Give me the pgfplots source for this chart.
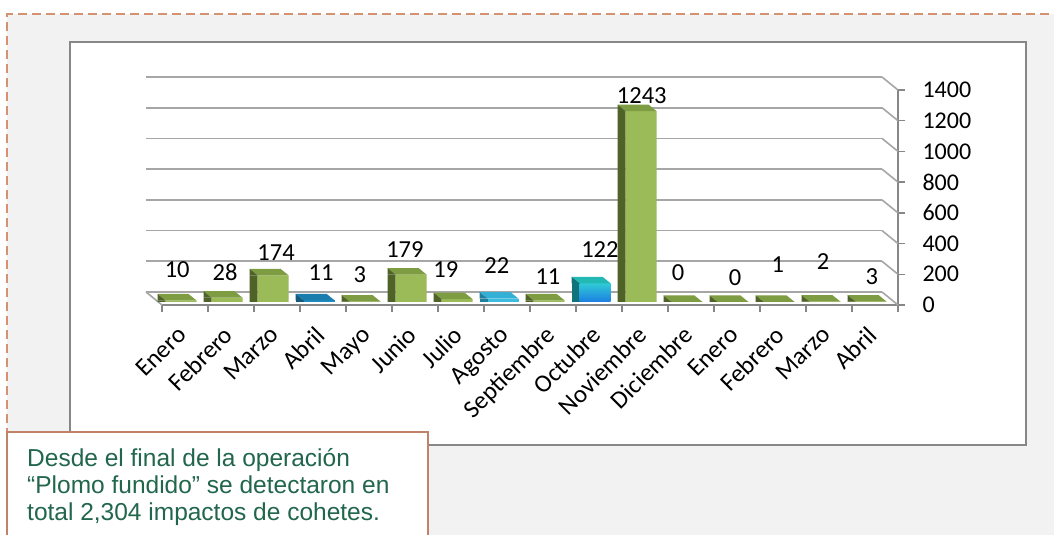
\documentclass[border=0pt]{standalone}
\usepackage{fontspec}
\setmainfont{Carlito}
\newfontfamily\arialfont{Liberation Sans}
\usepackage{pgfplots}
\usepackage{pgfplotstable}
\pgfplotsset{compat=1.18}
\definecolor{bggray}{HTML}{F2F2F2}
\definecolor{dashor}{HTML}{D49270}
\definecolor{boxgray}{HTML}{878787}
\definecolor{gridgray}{HTML}{A6A6A6}
\definecolor{gfront}{HTML}{9BBB59}
\definecolor{gtop}{HTML}{7E9C42}
\definecolor{gside}{HTML}{4F6228}
\definecolor{bAfront}{HTML}{1F8BC0}
\definecolor{bAtop}{HTML}{1A7DAE}
\definecolor{bAside}{HTML}{135A7C}
\definecolor{bGfront}{HTML}{3CBCE0}
\definecolor{bGtop}{HTML}{34AFD5}
\definecolor{bGside}{HTML}{1F7E99}
\definecolor{oTop}{HTML}{30CAD6}
\definecolor{oBot}{HTML}{1C7EE2}
\definecolor{oTopFace}{HTML}{22B9B5}
\definecolor{oSide}{HTML}{10737A}
\definecolor{tbord}{HTML}{C2826A}
\definecolor{ttext}{HTML}{21664D}

% top face (parallelogram) and the top of the left face of a 3D bar
\newcommand\declaretop[3]{%
  \pgfdeclareplotmark{#1}{%
    \pgfsetfillcolor{#2}%
    \pgfpathmoveto{\pgfqpoint{-19.5pt}{3pt}}%
    \pgfpathlineto{\pgfqpoint{11.5pt}{3pt}}%
    \pgfpathlineto{\pgfqpoint{3.5pt}{9.5pt}}%
    \pgfpathlineto{\pgfqpoint{-27.5pt}{9.5pt}}%
    \pgfpathclose
    \pgfusepathqfill
    \pgfsetfillcolor{#3}%
    \pgfpathmoveto{\pgfqpoint{-27.5pt}{3pt}}%
    \pgfpathlineto{\pgfqpoint{-19.5pt}{3pt}}%
    \pgfpathlineto{\pgfqpoint{-27.5pt}{9.5pt}}%
    \pgfpathclose
    \pgfusepathqfill}}
\declaretop{topG}{gtop}{gside}
\declaretop{topA}{bAtop}{bAside}
\declaretop{topB}{bGtop}{bGside}
\declaretop{topO}{oTopFace}{oSide}

% x = category, v = value, lx/ly = where the value label sits
\pgfplotstableread{
x v lx ly
0 10 -0.17 228
1 28 0.87 215
2 174 1.98 339
3 11 2.96 208
4 3 3.80 195
5 179 4.78 358
6 19 5.67 228
7 22 6.78 260
8 11 7.89 182
9 122 9.02 358
10 1243 9.93 1361
11 0 10.72 208
12 0 11.96 176
13 1 12.89 260
14 2 13.87 280
15 3 14.93 182
}\dataall

\pgfplotstableread{
x v
0 10
1 28
2 174
4 3
5 179
6 19
8 11
10 1243
11 0
12 0
13 1
14 2
15 3
}\datagreen

\begin{document}
\begin{tikzpicture}[x=1pt,y=1pt]
\useasboundingbox (0,0) rectangle (1054,535);
\fill[white] (0,0) rectangle (1054,535);
\fill[bggray] (7,0) rectangle (1054,521);
\draw[dashor, line width=2pt, dash pattern=on 9pt off 5pt] (7,0) -- (7,521) -- (1054,521);
\draw[boxgray, line width=2.5pt, fill=white] (70,90) rectangle (1026,493);

\begin{axis}[
  at={(162pt,230pt)}, anchor=south west,
  scale only axis, width=736pt, height=215pt,
  xmin=-0.5, xmax=15.5, ymin=0, ymax=1400,
  clip=false,
  axis x line*=bottom, axis y line*=right,
  axis line style={boxgray, line width=1.5pt},
  tick align=outside,
  major tick length=7pt,
  tick style={boxgray, line width=1.5pt},
  xtick={-0.5,0.5,...,15.5},
  xticklabels={},
  extra x ticks={0,...,15},
  extra x tick labels={Enero,Febrero,Marzo,Abril,Mayo,Junio,Julio,Agosto,Septiembre,Octubre,Noviembre,Diciembre,Enero,Febrero,Marzo,Abril},
  extra x tick style={major tick length=0pt,
     tick label style={anchor=north east, inner sep=1pt, font=\fontsize{25}{29}\selectfont, xshift=-9pt, yshift=-18pt, rotate=45}},
  ytick={0,200,...,1400},
  yticklabel style={font=\fontsize{24}{28}\selectfont, anchor=west, xshift=14pt},
  /pgf/number format/1000 sep={},
  /pgf/number format/assume math mode=true,
  ymajorgrids,
  major grid style={gridgray, line width=1.6pt, xshift=-16pt, yshift=13pt},
]
\pgfplotsinvokeforeach{0,200,...,1400}{
  \draw[gridgray, line width=1.6pt] ([shift={(-16pt,13pt)}]axis cs:15.5,#1) -- (axis cs:15.5,#1);
}
\draw[gridgray, line width=1.6pt] ([shift={(-16pt,13pt)}]axis cs:-0.5,0) -- (axis cs:-0.5,0);
% green bars: left face, front face, top face
\addplot[ybar, bar width=8pt, bar shift=-23.5pt, fill=gside, draw=none, yshift=3pt] table[x=x,y=v] {\datagreen};
\addplot[ybar, bar width=31pt, bar shift=-4pt, fill=gfront, draw=none, yshift=3pt] table[x=x,y=v] {\datagreen};
\addplot[only marks, mark=topG] table[x=x,y=v] {\datagreen};
% Abril
\addplot[ybar, bar width=8pt, bar shift=-23.5pt, fill=bAside, draw=none, yshift=3pt] coordinates {(3,11)};
\addplot[ybar, bar width=31pt, bar shift=-4pt, fill=bAfront, draw=none, yshift=3pt] coordinates {(3,11)};
\addplot[only marks, mark=topA] coordinates {(3,11)};
% Agosto
\addplot[ybar, bar width=8pt, bar shift=-23.5pt, fill=bGside, draw=none, yshift=3pt] coordinates {(7,22)};
\addplot[ybar, bar width=31pt, bar shift=-4pt, fill=bGfront, draw=none, yshift=3pt] coordinates {(7,22)};
\addplot[only marks, mark=topB] coordinates {(7,22)};
% Octubre
\addplot[ybar, bar width=8pt, bar shift=-23.5pt, fill=oSide, draw=none, yshift=3pt] coordinates {(9,122)};
\addplot[ybar, bar width=31pt, bar shift=-4pt, top color=oTop, bottom color=oBot, draw=none, yshift=3pt] coordinates {(9,122)};
\addplot[only marks, mark=topO] coordinates {(9,122)};
% value labels
\addplot[only marks, mark=none, point meta=explicit,
  nodes near coords,
  every node near coord/.append style={anchor=center, font=\fontsize{24.5}{28}\selectfont, text=black, inner sep=0pt}]
  table[x=lx, y=ly, meta=v] {\dataall};
\end{axis}

\draw[tbord, line width=2.5pt, fill=white] (7,103) rectangle (428,-10);
\node[anchor=north west, inner sep=0pt, align=left, text=ttext,
  font=\arialfont\fontsize{24.5}{27}\selectfont] at (27,86.5)
  {Desde el final de la operación\\“Plomo fundido” se detectaron en\\total 2,304 impactos de cohetes.};
\end{tikzpicture}
\end{document}
